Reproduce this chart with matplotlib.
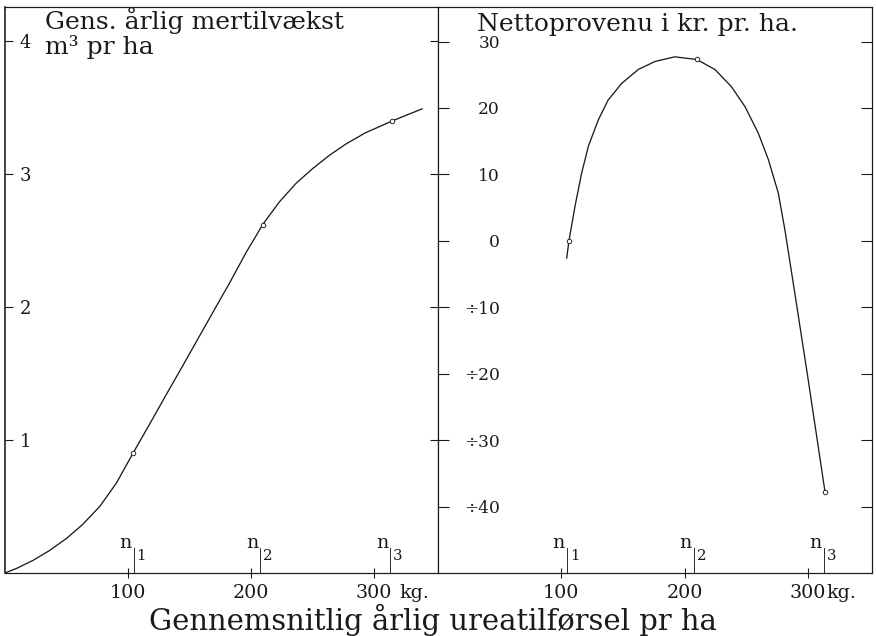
import matplotlib
matplotlib.use('Agg')
import matplotlib.pyplot as plt

plt.rcParams['font.family'] = ['DejaVu Serif']

# ---- data ----
x_ticks = [100, 200, 300]
x_tick_labels = ['100', '200', '300']
x_unit = 'kg.'
n_positions = [104.6, 207.6, 313.0]
n_subscripts = ['1', '2', '3']

growth_x = [0, 9.5, 23, 36, 50, 63, 77, 90.6, 104, 117.6, 131, 144.6, 158, 169, 182.5,
            196, 209.5, 223, 236.6, 250, 263.6, 277, 293, 315, 339]
growth_y = [0, 0.035, 0.096, 0.168, 0.26, 0.364, 0.50, 0.677, 0.90, 1.12, 1.34, 1.56,
            1.78, 1.96, 2.18, 2.41, 2.62, 2.79, 2.93, 3.04, 3.14, 3.225, 3.31, 3.40, 3.49]
growth_mark_x = [104, 209.5, 315]
growth_mark_y = [0.90, 2.62, 3.40]
growth_yticks = [1, 2, 3, 4]
growth_ytick_labels = ['1', '2', '3', '4']

net_x = [104.4, 106.2, 111.1, 116.5, 121.9, 130, 138, 149, 162.5, 176, 192,
         209.8, 224.6, 238, 249, 259.8, 268, 276, 281.4, 286.8, 291, 300, 313.9]
net_y = [-2.6, 0, 5.2, 10.2, 14.2, 18.2, 21.2, 23.7, 25.8, 27.0, 27.7,
         27.3, 25.8, 23.2, 20.2, 16.2, 12.2, 7.2, 1.6, -4.8, -9.8, -20.6, -37.8]
net_mark_x = [106.2, 209.8, 313.9]
net_mark_y = [0, 27.3, -37.8]
net_yticks = [-40, -30, -20, -10, 0, 10, 20, 30]
net_ytick_labels = ['÷40', '÷30', '÷20', '÷10', '0', '10', '20', '30']

title_left_1 = 'Gens. årlig mertilvækst'
title_left_2 = 'm³ pr ha'
title_right = 'Nettoprovenu i kr. pr. ha.'
x_label = 'Gennemsnitlig årlig ureatilførsel pr ha'

INK = '#1a1a1a'
W, H = 876, 636
fig = plt.figure(figsize=(W / 72, H / 72), dpi=72)
fig.patch.set_facecolor('white')

axL = fig.add_axes([5 / W, 63 / H, 433 / W, 566 / H])
axR = fig.add_axes([438 / W, 63 / H, 434 / W, 566 / H])

for ax in (axL, axR):
    ax.set_xlim(0, 352)
    for s in ax.spines.values():
        s.set_color(INK)
        s.set_linewidth(1.2)
    ax.set_xticks(x_ticks)
    ax.set_xticklabels(x_tick_labels)
    ax.tick_params(axis='x', direction='inout', length=10, width=1.1, pad=6,
                   labelsize=19, colors=INK, top=False)
    ax.tick_params(axis='y', direction='in', width=1.1, colors=INK,
                   left=True, right=True)
    for n, sub in zip(n_positions, n_subscripts):
        ax.axvline(n, ymin=0, ymax=25 / 566, color=INK, lw=0.9)
        ax.annotate('n', xy=(n, 25 / 566), xycoords=('data', 'axes fraction'),
                    xytext=(-2, 0), textcoords='offset points',
                    ha='right', va='baseline', fontsize=19, color=INK)
        ax.annotate(sub, xy=(n, 25 / 566), xycoords=('data', 'axes fraction'),
                    xytext=(3, -1), textcoords='offset points',
                    ha='left', va='top', fontsize=15, color=INK)

axL.spines['left'].set_linewidth(1.6)

# left panel
axL.set_ylim(0, 4.256)
axL.plot(growth_x, growth_y, color=INK, lw=1.3, solid_joinstyle='round')
axL.plot(growth_mark_x, growth_mark_y, 'o', ms=4.5, mfc='white', mec=INK, mew=0.9)
axL.set_yticks(growth_yticks)
axL.set_yticklabels(growth_ytick_labels, ha='left')
axL.tick_params(axis='y', length=8, pad=-15, labelsize=18)
axL.annotate(x_unit, xy=(300, 0), xycoords=('data', 'axes fraction'),
             xytext=(25, -11), textcoords='offset points', ha='left', va='top',
             fontsize=19, color=INK)
axL.annotate(title_left_1, xy=(0, 1), xycoords='axes fraction', xytext=(40, -22),
             textcoords='offset points', ha='left', va='baseline', fontsize=25, color=INK)
axL.annotate(title_left_2, xy=(0, 1), xycoords='axes fraction', xytext=(40, -47),
             textcoords='offset points', ha='left', va='baseline', fontsize=25, color=INK)

# right panel
axR.set_ylim(-50, 35.2)
axR.plot(net_x, net_y, color=INK, lw=1.3, solid_joinstyle='round')
axR.plot(net_mark_x, net_mark_y, 'o', ms=4.5, mfc='white', mec=INK, mew=0.9)
axR.set_yticks(net_yticks)
axR.set_yticklabels(net_ytick_labels, ha='right')
axR.tick_params(axis='y', length=11, pad=-62, labelsize=17)
axR.annotate(x_unit, xy=(300, 0), xycoords=('data', 'axes fraction'),
             xytext=(19, -11), textcoords='offset points', ha='left', va='top',
             fontsize=19, color=INK, annotation_clip=False)
axR.annotate(title_right, xy=(0, 1), xycoords='axes fraction', xytext=(39, -24),
             textcoords='offset points', ha='left', va='baseline', fontsize=25, color=INK)

fig.text(433 / W, 6 / H, x_label, ha='center', va='baseline', fontsize=29, color=INK)

fig.savefig('out.png', dpi=72, facecolor='white')
